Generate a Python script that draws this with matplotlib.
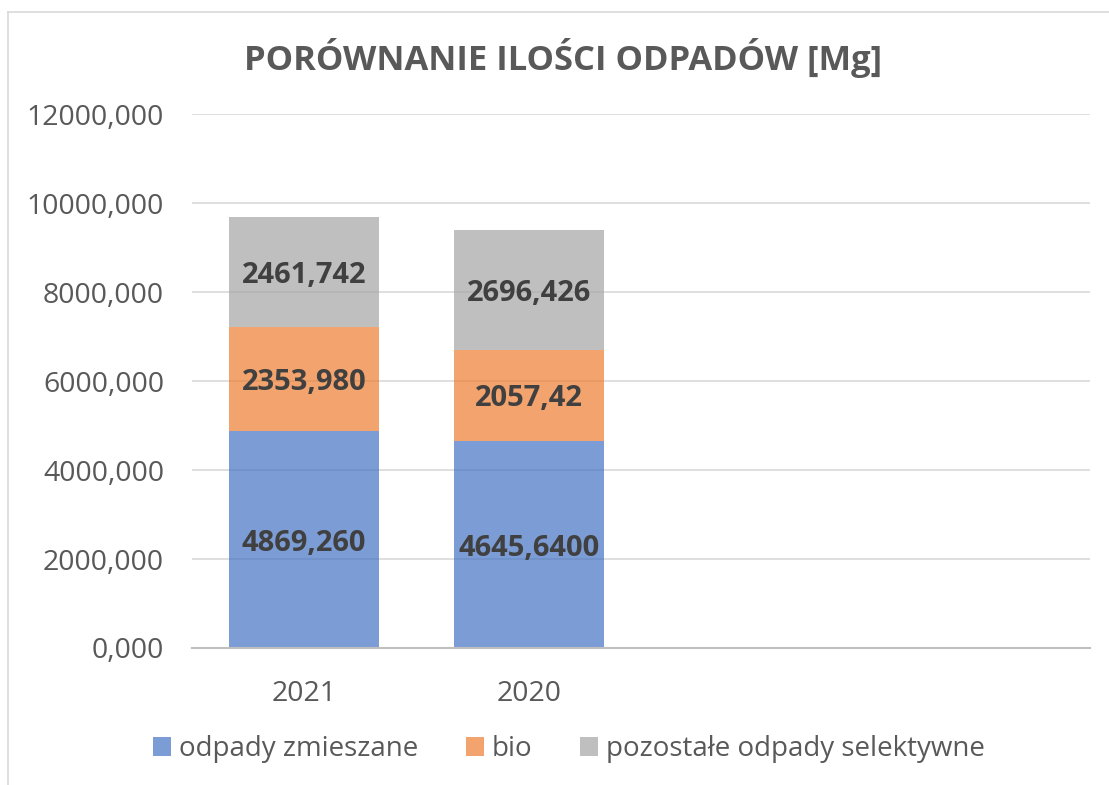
import matplotlib.pyplot as plt
import numpy as np
from matplotlib.ticker import FuncFormatter
from matplotlib.patches import Patch
from matplotlib.lines import Line2D

plt.rcParams['font.family'] = ['Open Sans', 'DejaVu Sans']

years = ["2021", "2020", "", ""]
series_names = ["odpady zmieszane", "bio", "pozostałe odpady selektywne"]
mixed = [4869.260, 4645.640]
bio = [2353.980, 2057.42]
other = [2461.742, 2696.426]
mixed_labels = ["4869,260", "4645,6400"]
bio_labels = ["2353,980", "2057,42"]
other_labels = ["2461,742", "2696,426"]
colors = ["#4472C4", "#ED7D31", "#A5A5A5"]

fig = plt.figure(figsize=(11.09, 7.85), dpi=100)
ax = fig.add_axes([192 / 1109, 1 - 648 / 785, 898 / 1109, 534 / 785])

# chart area border (only left/top visible in the crop)
fig.add_artist(Line2D([8 / 1109, 8 / 1109], [0, 1 - 12 / 785], color="#D9D9D9", lw=1.2))
fig.add_artist(Line2D([8 / 1109, 1], [1 - 12 / 785, 1 - 12 / 785], color="#D9D9D9", lw=1.2))

x = np.arange(len(years))
n = len(mixed)
bottom = np.zeros(n)
for vals, labs, col in [(mixed, mixed_labels, colors[0]),
                        (bio, bio_labels, colors[1]),
                        (other, other_labels, colors[2])]:
    bars = ax.bar(x[:n], vals, bottom=bottom, width=0.67, color=col, alpha=0.7, zorder=3)
    txts = ax.bar_label(bars, labels=labs, label_type="center", fontsize=21, fontweight="bold",
                        color="#404040", zorder=4)
    for t in txts:
        t.set_y(t.get_position()[1])
        t.set_va("center_baseline")
    bottom += np.array(vals)

ax.set_xlim(-0.5, len(years) - 0.5)
ax.set_ylim(0, 12000)
ax.set_yticks(np.arange(0, 12001, 2000))
ax.yaxis.set_major_formatter(FuncFormatter(lambda v, p: f"{v:.3f}".replace(".", ",")))
ax.set_xticks(x[:n])
ax.set_xticklabels(years[:n])
ax.tick_params(axis="both", length=0, labelsize=20.5, labelcolor="#595959")
ax.tick_params(axis="y", pad=20)
ax.tick_params(axis="x", pad=23)
ax.grid(axis="y", color="#D9D9D9", lw=1.2, zorder=0)
ax.set_axisbelow(True)
for s in ["top", "right", "left"]:
    ax.spines[s].set_visible(False)
ax.spines["bottom"].set_color("#BFBFBF")
ax.spines["bottom"].set_linewidth(1.5)
ax.spines["bottom"].set_zorder(5)

fig.text(563 / 1109, 1 - 58 / 785, "PORÓWNANIE ILOŚCI ODPADÓW [Mg]", ha="center", va="center",
         fontsize=24.8, fontweight="bold", color="#595959")

handles = [Patch(facecolor=c, alpha=0.7, edgecolor="none") for c in colors]
fig.legend(handles, series_names, loc="center", bbox_to_anchor=(569 / 1109, 1 - 749 / 785),
           ncol=3, frameon=False, fontsize=20, labelcolor="#595959",
           handlelength=0.65, handleheight=0.65, handletextpad=0.3, columnspacing=1.7)

fig.savefig("out.png", dpi=100)
